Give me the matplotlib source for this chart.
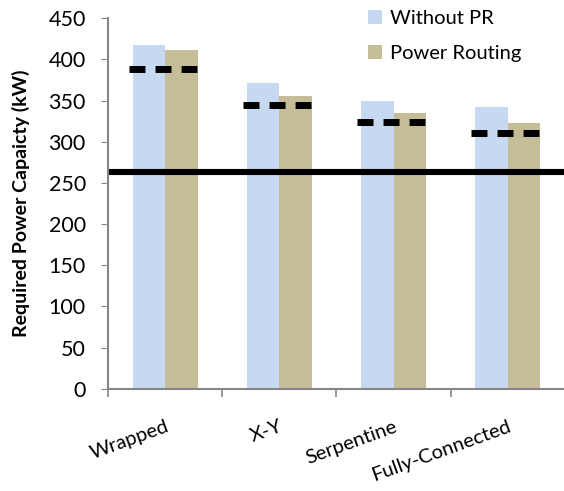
import numpy as np
import matplotlib
matplotlib.use("Agg")
import matplotlib.pyplot as plt

plt.rcParams['font.family'] = ['Lato', 'DejaVu Sans']

# data
categories = ["Wrapped", "X-Y", "Serpentine", "Fully-Connected"]
without_pr = [417, 371, 350, 342]
power_routing = [411, 356, 335, 323]
dashed_level = [388, 345, 324, 311]
baseline = 263
yticks = [0, 50, 100, 150, 200, 250, 300, 350, 400, 450]

BLUE = "#C6D9F1"
TAN = "#C4BD97"
GRAY = "#868686"


def main():
    fig = plt.figure(figsize=(5.64, 4.91), dpi=100)
    ax = fig.add_axes([0.1915, 0.208, 0.81, 0.755])

    x = np.arange(len(categories))
    w = 0.284
    ax.bar(x - w / 2, without_pr, w, color=BLUE, label="Without PR")
    ax.bar(x + w / 2, power_routing, w, color=TAN, label="Power Routing")

    # dashed per-category levels
    for xi, lvl in zip(x, dashed_level):
        ln, = ax.plot([xi - 0.32, xi + 0.275], [lvl, lvl], color="black",
                      lw=5, solid_capstyle="butt", dash_capstyle="butt",
                      clip_on=False)
        ln.set_dashes([2.3, 1.45])

    # solid baseline across the plot
    ax.plot([-0.5, 3.52], [baseline, baseline], color="black", lw=4.4,
            solid_capstyle="butt", clip_on=False)

    ax.set_xlim(-0.5, 3.5)
    ax.set_ylim(0, 450)
    ax.set_yticks(yticks)
    ax.set_yticklabels([str(t) for t in yticks], fontsize=15.5)
    ax.tick_params(axis="y", length=5, color=GRAY, pad=11)

    ax.set_xticks(x)
    ax.set_xticklabels(categories, rotation=20, ha="right",
                       rotation_mode="anchor", fontsize=14.5)
    ax.tick_params(axis="x", length=0, pad=21)
    ax.set_xticks(np.arange(-0.5, 3.5, 1.0), minor=True)
    ax.tick_params(axis="x", which="minor", length=6, color=GRAY, width=1.2)

    for side in ("top", "right"):
        ax.spines[side].set_visible(False)
    for side in ("left", "bottom"):
        ax.spines[side].set_color(GRAY)
        ax.spines[side].set_linewidth(1.5)

    ax.set_ylabel("Required Power Capaicty (kW)", fontsize=14,
                  fontweight="bold", labelpad=13)

    ax.legend(loc="upper left", bbox_to_anchor=(0.53, 1.07), frameon=False,
              fontsize=14.5, handlelength=0.7, handleheight=0.7,
              handletextpad=0.4, labelspacing=0.85)

    fig.savefig("out.png", dpi=100)
    plt.close(fig)


if __name__ == '__main__':
    main()
